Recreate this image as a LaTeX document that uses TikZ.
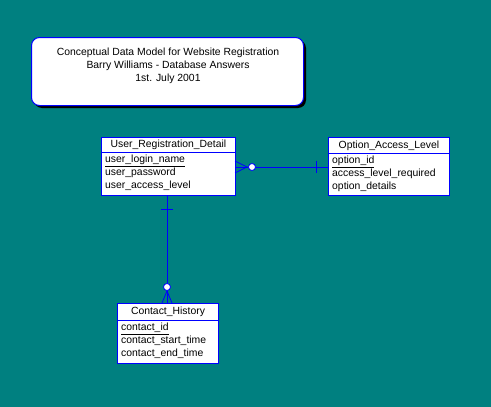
\documentclass[tikz,border=0pt]{standalone}
\usepackage{fontspec}
\setmainfont{Liberation Sans}
\definecolor{bg}{RGB}{0,128,128}
\definecolor{erblue}{RGB}{0,0,255}
\begin{document}
\begin{tikzpicture}[x=1pt,y=-1pt,
  ent/.style={draw=erblue,fill=white,line width=1pt,inner sep=0pt,anchor=north west},
  hdr/.style={font=\fontsize{10.4}{12}\selectfont,anchor=center},
  attr/.style={font=\fontsize{10.4}{13}\selectfont,anchor=north west,inner sep=0pt,align=left},
  conn/.style={draw=erblue,line width=0.8pt},
  optc/.style={draw=erblue,fill=white,line width=0.8pt}]
\fill[bg] (0,0) rectangle (491,407);
\useasboundingbox (0,0) rectangle (491,407);
% title box
\fill[black,rounded corners=8pt] (34,40) rectangle (306,108);
\node[draw=erblue,fill=white,line width=1pt,rounded corners=8pt,minimum width=272pt,minimum height=68pt,anchor=north west,inner sep=0pt] (title) at (31,37) {};
\node[font=\fontsize{10.4}{12.8}\selectfont,align=center] (titletxt) at (168,66) {Conceptual Data Model for Website Registration\\Barry Williams - Database Answers\\1st. July 2001};
% User_Registration_Detail
\node[ent,minimum width=134pt,minimum height=15pt] (urdh) at (101,137) {};
\node[hdr] (urdt) at (urdh.center) {User\_Registration\_Detail};
\node[ent,minimum width=134pt,minimum height=43pt] (urd) at (101,152) {};
\node[attr] (urda) at (105,155) {\underline{user\_login\_name}\\user\_password\\user\_access\_level};
% Option_Access_Level
\node[ent,minimum width=121pt,minimum height=16pt] (oalh) at (328,137) {};
\node[hdr] (oalt) at (oalh.center) {Option\_Access\_Level};
\node[ent,minimum width=121pt,minimum height=42pt] (oal) at (328,153) {};
\node[attr] (oala) at (332,156) {\underline{option\_id}\\access\_level\_required\\option\_details};
% Contact_History
\node[ent,minimum width=101pt,minimum height=17pt] (chh) at (117,303) {};
\node[hdr] (cht) at (chh.center) {Contact\_History};
\node[ent,minimum width=101pt,minimum height=43pt] (ch) at (117,320) {};
\node[attr] (cha) at (121,323) {\underline{contact\_id}\\contact\_start\_time\\contact\_end\_time};
% connector URD -- OAL
\coordinate (c1) at (urd.east |- 0,167);
\coordinate (c2) at (oal.west |- 0,167);
\draw[conn] (c1) -- (c2);
\draw[conn] (235,161) -- (247,167) -- (235,173);
\draw[conn] (316,161) -- (316,173);
\node[optc,circle,minimum size=7pt,inner sep=0pt] (o1) at (252,167) {};
% connector URD -- CH
\coordinate (c3) at (167,195);
\coordinate (c4) at (167,303);
\draw[conn] (c3) -- (c4);
\draw[conn] (161,209) -- (173,209);
\draw[conn] (162,303) -- (167,291) -- (172,303);
\node[optc,circle,minimum size=7pt,inner sep=0pt] (o2) at (167,287) {};
\end{tikzpicture}
\end{document}
